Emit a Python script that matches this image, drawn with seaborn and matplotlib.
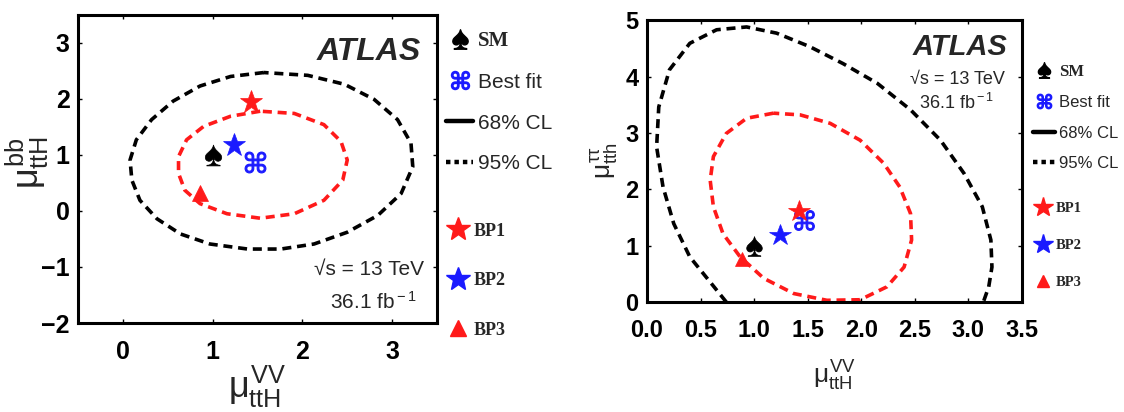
import matplotlib
matplotlib.use("Agg")
import matplotlib.pyplot as plt
from matplotlib.lines import Line2D
import seaborn as sns
import pandas as pd

# ---------------- data ----------------
# Left panel: mu_ttH^VV vs mu_ttH^bb
left_95_x = [1.57, 1.20, 0.86, 0.56, 0.32, 0.15, 0.08, 0.10, 0.19, 0.38, 0.64, 0.97, 1.39, 1.76,
             2.13, 2.50, 2.84, 3.10, 3.23, 3.21, 3.06, 2.80, 2.47, 2.06, 1.57]
left_95_y = [2.47, 2.40, 2.23, 1.96, 1.63, 1.27, 0.91, 0.55, 0.19, -0.14, -0.41, -0.59, -0.68, -0.68,
             -0.59, -0.38, -0.08, 0.31, 0.79, 1.21, 1.63, 1.99, 2.26, 2.42, 2.47]
left_68_x = [1.53, 1.20, 0.90, 0.71, 0.62, 0.62, 0.69, 0.86, 1.16, 1.53, 1.91, 2.24, 2.45, 2.50,
             2.43, 2.24, 1.91, 1.53]
left_68_y = [1.78, 1.69, 1.51, 1.27, 0.97, 0.67, 0.37, 0.13, -0.05, -0.13, -0.05, 0.19, 0.55, 0.91,
             1.24, 1.54, 1.74, 1.78]

# Right panel: mu_ttH^VV vs mu_tth^tautau
right_95_x = [0.74, 0.60, 0.40, 0.25, 0.15, 0.09, 0.11, 0.21, 0.40, 0.65, 0.93, 1.21, 1.52, 1.83,
              2.15, 2.46, 2.74, 2.96, 3.13, 3.21, 3.22, 3.19, 3.14]
right_95_y = [0.00, 0.33, 0.80, 1.39, 2.04, 2.75, 3.46, 4.12, 4.59, 4.83, 4.88, 4.77, 4.53, 4.23,
              3.88, 3.41, 2.87, 2.28, 1.69, 1.10, 0.62, 0.27, 0.00]
right_68_x = [1.18, 0.93, 0.74, 0.62, 0.59, 0.62, 0.71, 0.87, 1.09, 1.37, 1.68, 1.99, 2.24, 2.40,
              2.47, 2.46, 2.36, 2.21, 1.99, 1.71, 1.43, 1.18]
right_68_y = [3.35, 3.26, 2.99, 2.58, 2.16, 1.69, 1.21, 0.80, 0.42, 0.15, 0.03, 0.04, 0.27, 0.62,
              1.10, 1.57, 2.04, 2.46, 2.87, 3.17, 3.32, 3.35]

point_names = ["SM", "Best fit", "BP1", "BP2", "BP3"]
left_pts_x = [1.00, 1.47, 1.43, 1.24, 0.86]
left_pts_y = [1.00, 0.88, 1.95, 1.18, 0.32]
right_pts_x = [1.00, 1.47, 1.42, 1.24, 0.89]
right_pts_y = [1.00, 1.45, 1.62, 1.18, 0.77]

left_xticks = [0, 1, 2, 3]
left_yticks = [-2, -1, 0, 1, 2, 3]
right_xticks = [0.0, 0.5, 1.0, 1.5, 2.0, 2.5, 3.0, 3.5]
right_yticks = [0, 1, 2, 3, 4, 5]

# ---------------- style ----------------
sns.set_style("white")
plt.rcParams["font.family"] = ["Liberation Sans", "DejaVu Sans"]
plt.rcParams["mathtext.fontset"] = "custom"
plt.rcParams["mathtext.rm"] = "Liberation Sans"
plt.rcParams["mathtext.it"] = "Liberation Sans"

RED = "#ff1a1a"
BLUE = "#1a1aff"
markers = {
    "SM": dict(marker=r"$\spadesuit$", color="black", size=15),
    "Best fit": dict(marker=r"$⌘$", color=BLUE, size=15),
    "BP1": dict(marker="*", color=RED, size=17),
    "BP2": dict(marker="*", color=BLUE, size=17),
    "BP3": dict(marker="^", color=RED, size=11),
}

fig = plt.figure(figsize=(11.24, 4.12), dpi=100)
axL = fig.add_axes([0.0694, 0.216, 0.3194, 0.748])
axR = fig.add_axes([0.5756, 0.267, 0.3336, 0.684])


def draw_contour(ax, xs, ys, color):
    df = pd.DataFrame({"x": xs, "y": ys})
    sns.lineplot(data=df, x="x", y="y", sort=False, estimator=None, ax=ax,
                 color=color, linewidth=2.6, linestyle=(0, (2.5, 1.6)), legend=False)


def draw_points(ax, xs, ys, scale=1.0):
    for name, x, y in zip(point_names, xs, ys):
        m = markers[name]
        ax.plot([x], [y], linestyle="none", marker=m["marker"], color=m["color"],
                markersize=m["size"] * scale, markeredgewidth=0.5 if name != "Best fit" else 0.8,
                zorder=5)


def frame(ax):
    for s in ax.spines.values():
        s.set_linewidth(2.2)
        s.set_color("black")
    ax.tick_params(direction="in", length=3, width=1, top=True, right=True,
                   bottom=True, left=True, colors="black")


def add_legends(ax, x0, y_top, y_bot, fs_top, fs_bot, sp_top, sp_bot, msc):
    top_handles = [
        Line2D([], [], linestyle="none", marker=r"$\spadesuit$", color="black", markersize=14 * msc),
        Line2D([], [], linestyle="none", marker=r"$⌘$", color=BLUE, markersize=13 * msc),
        Line2D([], [], color="black", linewidth=3.2),
        Line2D([], [], color="black", linewidth=3.2, linestyle=(0, (1.0, 0.9))),
    ]
    top_labels = ["SM", "Best fit", "68% CL", "95% CL"]
    leg1 = ax.legend(top_handles, top_labels, loc="upper left", bbox_to_anchor=(x0, y_top),
                     bbox_transform=ax.transAxes, frameon=False, fontsize=fs_top,
                     handlelength=1.3, handletextpad=0.25, labelspacing=sp_top,
                     borderpad=0, borderaxespad=0)
    for t in leg1.get_texts():
        if t.get_text() == "SM":
            t.set_fontfamily("Liberation Serif")
            t.set_fontweight("bold")
    ax.add_artist(leg1)
    bot_handles = [
        Line2D([], [], linestyle="none", marker="*", color=RED, markersize=18 * msc),
        Line2D([], [], linestyle="none", marker="*", color=BLUE, markersize=18 * msc),
        Line2D([], [], linestyle="none", marker="^", color=RED, markersize=11 * msc),
    ]
    leg2 = ax.legend(bot_handles, ["BP1", "BP2", "BP3"], loc="upper left",
                     bbox_to_anchor=(x0, y_bot), bbox_transform=ax.transAxes,
                     frameon=False, handlelength=1.3, handletextpad=0.25,
                     labelspacing=sp_bot, borderpad=0, borderaxespad=0,
                     prop=dict(family="Liberation Serif", weight="bold", size=fs_bot))
    return leg2


# ---------------- left panel ----------------
draw_contour(axL, left_95_x, left_95_y, "black")
draw_contour(axL, left_68_x, left_68_y, RED)
draw_points(axL, left_pts_x, left_pts_y)
axL.set_xlim(-0.5, 3.5)
axL.set_ylim(-2, 3.5)
axL.set_xticks(left_xticks)
axL.set_yticks(left_yticks)
axL.set_xticklabels([str(v) for v in left_xticks], fontsize=18, fontweight="bold")
axL.set_yticklabels([str(v).replace("-", "\u2212") for v in left_yticks], fontsize=18, fontweight="bold")
axL.tick_params(axis="x", pad=12)
axL.tick_params(axis="y", pad=6)
axL.set_xlabel(r"$\mu^{\rm VV}_{\rm ttH}$", fontsize=26, labelpad=0)
axL.set_ylabel(r"$\mu^{\rm bb}_{\rm ttH}$", fontsize=26)
axL.yaxis.set_label_coords(-0.075, 0.52)
frame(axL)
axL.text(0.955, 0.88, "ATLAS", transform=axL.transAxes, ha="right", va="center",
         fontsize=23, fontweight="bold", fontstyle="italic")
axL.text(0.965, 0.175, "\u221as = 13 TeV", transform=axL.transAxes, ha="right",
         va="center", fontsize=15, family=["Liberation Sans", "DejaVu Sans"])
axL.text(0.945, 0.07, r"36.1 fb$^{\rm -1}$", transform=axL.transAxes, ha="right",
         va="center", fontsize=15)
add_legends(axL, 1.025, 0.948, 0.326, 15, 13, 1.05, 1.8, 1.0)

# ---------------- right panel ----------------
draw_contour(axR, right_95_x, right_95_y, "black")
draw_contour(axR, right_68_x, right_68_y, RED)
draw_points(axR, right_pts_x, right_pts_y, scale=0.95)
axR.set_xlim(0, 3.5)
axR.set_ylim(0, 5)
axR.set_xticks(right_xticks)
axR.set_yticks(right_yticks)
axR.set_xticklabels([f"{v:.1f}" for v in right_xticks], fontsize=17, fontweight="bold")
axR.set_yticklabels([str(v) for v in right_yticks], fontsize=17, fontweight="bold")
axR.tick_params(axis="x", pad=12)
axR.tick_params(axis="y", pad=6)
axR.set_xlabel(r"$\mu^{\rm VV}_{\rm ttH}$", fontsize=19, labelpad=12)
axR.set_ylabel(r"$\mu^{\tau\tau}_{\rm tth}$", fontsize=19, labelpad=4)
frame(axR)
axR.text(0.96, 0.905, "ATLAS", transform=axR.transAxes, ha="right", va="center",
         fontsize=21, fontweight="bold", fontstyle="italic")
axR.text(0.955, 0.79, "\u221as = 13 TeV", transform=axR.transAxes, ha="right",
         va="center", fontsize=13, family=["Liberation Sans", "DejaVu Sans"])
axR.text(0.925, 0.705, r"36.1 fb$^{\rm -1}$", transform=axR.transAxes, ha="right",
         va="center", fontsize=13)
add_legends(axR, 1.03, 0.845, 0.356, 12, 10.5, 0.92, 1.65, 0.8)

fig.savefig("out.png", dpi=100)
